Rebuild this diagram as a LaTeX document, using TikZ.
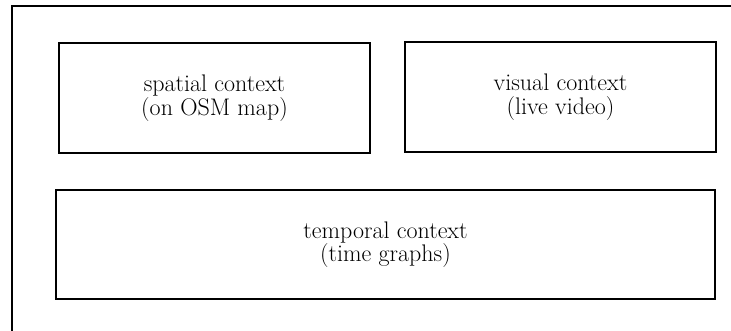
\documentclass[tikz,border=0pt]{standalone}
\usepackage{fontspec}
\begin{document}
\begin{tikzpicture}[x=1pt,y=1pt,
  ctxbox/.style={draw, line width=1.3pt, rectangle, align=center, inner sep=0pt,
    font=\fontsize{24pt}{23.5pt}\selectfont}]
\useasboundingbox (0,0) rectangle (731,330);
\clip (0,0) rectangle (731,330);
\coordinate (ob) at (12,-2);
\coordinate (oc) at (12,324);
\coordinate (or) at (735,324);
\draw[line width=1.3pt] (ob) -- (oc) -- (or);
\node[ctxbox, minimum width=311pt, minimum height=110pt] (spatial) at (214.5,232) {spatial context\\(on OSM map)};
\node[ctxbox, minimum width=311pt, minimum height=110pt] (visual) at (560.5,233) {visual context\\(live video)};
\node[ctxbox, minimum width=659pt, minimum height=109pt] (temporal) at (385.5,85.5) {temporal context\\(time graphs)};
\end{tikzpicture}
\end{document}
